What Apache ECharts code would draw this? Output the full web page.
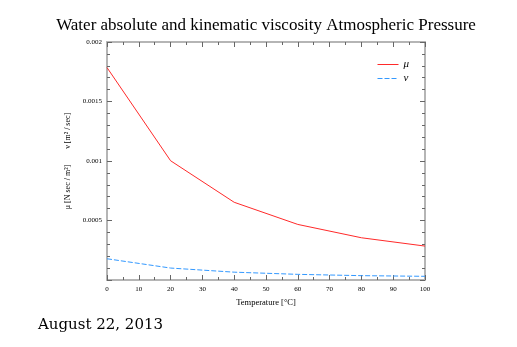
<!DOCTYPE html>
<html><head><meta charset="utf-8">
<script src="https://cdn.jsdelivr.net/npm/echarts@6/dist/echarts.min.js"></script>
<style>html,body{margin:0;padding:0;background:#fff}#c{width:517px;height:347px}</style>
</head><body><div id="c"></div>
<script>
const temperatures = [0, 20, 40, 60, 80, 100];
const muValues = [0.001785, 0.001002, 0.000653, 0.000467, 0.000355, 0.000285];
const nuValues = [0.0001785, 0.0001004, 0.0000658, 0.0000475, 0.0000365, 0.0000310];
const seriesNames = ['\u03bc', '\u03bd'];
const yTickLabels = {0.002: '0.002', 0.0015: '0.0015', 0.001: '0.001', 0.0005: '0.0005'};

const chart = echarts.init(document.getElementById('c'));
const serif = 'Liberation Serif';
const axisLineStyle = {color: '#b5b5b5', width: 2};
const tickStyle = {color: '#666', width: 1};
function mkX(pos, show) {
  return {
    type: 'value', min: 0, max: 100, interval: 10, position: pos,
    axisLine: {show: true, onZero: false, lineStyle: axisLineStyle},
    axisTick: {show: true, inside: true, length: 5, lineStyle: tickStyle},
    minorTick: {show: true, splitNumber: 2, length: 3, lineStyle: tickStyle},
    splitLine: {show: false},
    axisLabel: {show: show, fontFamily: serif, fontSize: 7, color: '#000', margin: 6},
    name: show ? 'Temperature [\u00b0C]' : '',
    nameLocation: 'middle', nameGap: 13,
    nameTextStyle: {fontFamily: serif, fontSize: 8.5, color: '#000'}
  };
}
function mkY(pos, show) {
  return {
    type: 'value', min: 0, max: 0.002, interval: 0.0005, position: pos,
    axisLine: {show: true, onZero: false, lineStyle: axisLineStyle},
    axisTick: {show: true, inside: true, length: 5, lineStyle: tickStyle},
    minorTick: {show: true, splitNumber: 5, length: 3, lineStyle: tickStyle},
    splitLine: {show: false},
    axisLabel: {show: show, fontFamily: serif, fontSize: 7, color: '#000', margin: 5,
      formatter: v => yTickLabels[v] || ''},
    name: show ? '\u03bc [N sec / m\u00b2]        \u03bd [m\u00b2 / sec]' : '',
    nameLocation: 'middle', nameGap: 34, nameRotate: 90,
    nameTextStyle: {fontFamily: serif, fontSize: 8, color: '#000'}
  };
}
chart.setOption({
  animation: false,
  backgroundColor: '#fff',
  title: {
    text: 'Water absolute and kinematic viscosity Atmospheric Pressure',
    left: 261, top: 12, textAlign: 'center',
    textStyle: {fontFamily: serif, fontSize: 17, fontWeight: 'normal', color: '#000'}
  },
  graphic: [{
    type: 'text', left: 38, top: 318,
    style: {text: 'August 22, 2013', font: '15px "DejaVu Serif"', fill: '#000'}
  }],
  legend: {
    orient: 'vertical', left: 372, top: 54, itemWidth: 21, itemHeight: 8, itemGap: 3,
    textStyle: {fontFamily: serif, fontSize: 11, fontStyle: 'italic', color: '#000'},
    itemStyle: {opacity: 0},
    lineStyle: {width: 1},
    data: seriesNames
  },
  grid: {left: 107, right: 92, top: 42, bottom: 67},
  xAxis: [mkX('bottom', true), mkX('top', false)],
  yAxis: [mkY('left', true), mkY('right', false)],
  series: [
    {name: seriesNames[0], type: 'line', symbol: 'none', xAxisIndex: 0, yAxisIndex: 0,
     data: temperatures.map((t, i) => [t, muValues[i]]),
     lineStyle: {color: '#ff2a2a', width: 1}, itemStyle: {color: '#ff2a2a'}},
    {name: seriesNames[1], type: 'line', symbol: 'none', xAxisIndex: 0, yAxisIndex: 0,
     data: temperatures.map((t, i) => [t, nuValues[i]]),
     lineStyle: {color: '#3399ff', width: 1, type: [5, 2]}, itemStyle: {color: '#3399ff'}}
  ]
});
</script></body></html>
